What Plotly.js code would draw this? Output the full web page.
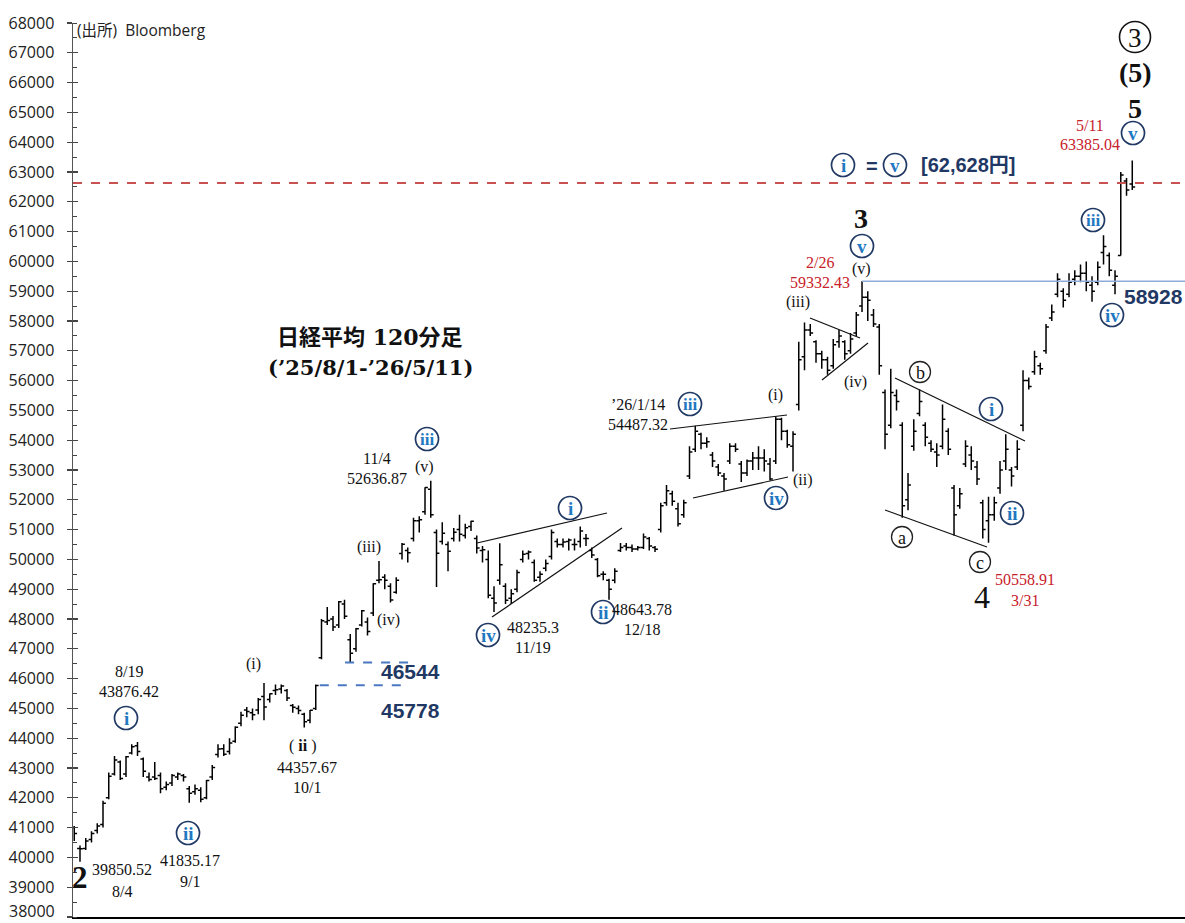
<!DOCTYPE html>
<html><head><meta charset="utf-8">
<script src="https://cdn.plot.ly/plotly-3.0.1.min.js"></script>
<style>html,body{margin:0;padding:0;background:#fff;}#chart{width:1185px;height:923px;}</style>
</head><body><div id="chart"></div>
<script>
// Nikkei 225, one bar per trading session day, '25/8/1 - '26/5/11
const openPx = [41000,40300,40300,40600,40900,41100,42000,42800,43200,42800,43500,43750,43300,42700,42700,42750,42350,42500,42700,42750,
42300,42200,42250,42000,42700,43450,43650,43550,43900,44500,44950,44850,44950,45400,45300,45600,45650,45600,45100,45000,
44800,44600,45000,46700,47900,48000,47800,48500,47300,47000,47800,47900,48200,49300,49400,49100,48900,50200,50300,50700,
51300,51600,52350,50900,50600,50500,50700,51000,50800,51100,50700,50300,50000,48700,49300,49100,48700,49000,50000,50200,
49900,49400,49700,50100,50600,50500,50600,50500,50600,50700,50300,50000,49500,49300,49300,50300,50450,50400,50350,50400,
50700,50400,51000,51900,52200,51700,51500,52800,53700,54200,53900,53500,53100,52800,53300,53800,53200,52900,53300,53400,
53400,53200,53300,54700,54300,53800,55200,56800,57700,57300,56900,56700,56500,57300,57300,57000,57600,58500,58800,58200,
57800,55600,54500,55500,54500,52000,53800,54900,54500,53900,53600,53800,54300,52400,51800,53200,53500,53100,51900,51300,
51500,52400,53300,53000,53100,54500,56000,56300,56500,57000,58100,58900,59000,58900,59400,59500,59600,59200,59300,60300,
60200,59200,60200,62700,62600];
const highPx = [41050,40400,40650,40880,41150,41900,42850,43400,43250,43400,43800,43876,43350,42850,43200,42850,42550,42800,42850,42800,
42400,42450,42350,42600,43100,43800,43800,44000,44400,44890,45050,45000,45350,45850,45500,45800,45800,45650,45150,45100,
44850,44950,45800,48000,48400,48100,48600,48650,47500,47700,48300,48050,49200,49950,49500,49200,49400,50550,50400,51400,
51450,52420,52637,51000,51250,50600,51050,51500,51200,51300,50800,50450,50300,49100,50540,49200,49000,49650,50300,50300,
50000,49600,50000,51000,50700,50700,50700,50700,51100,50850,50400,50050,49600,49350,49700,50550,50550,50500,50450,50870,
50750,50450,51900,52500,52300,51900,52000,53800,54487,54250,54100,53600,53200,52900,53900,53900,53300,53350,53600,53800,
53700,53400,54800,54750,54350,54300,57300,57950,57900,57350,57000,56800,57400,57700,57350,57600,58300,59332,59000,58400,
57900,55700,56400,55700,54600,52900,54700,55700,54600,54000,53900,55200,54400,52500,52400,54000,53800,53300,52000,52100,
52100,53300,54200,53100,54000,56350,56100,57000,56600,57900,58550,59600,59100,59600,59700,59900,60000,59500,60000,60880,
60300,59700,63000,62800,63385];
const lowPx = [40550,39851,40250,40500,40800,41000,41950,42750,42600,42700,43450,43400,42700,42550,42600,42150,42250,42400,42600,42550,
41835,42100,41850,41950,42600,43350,43400,43450,43850,44400,44700,44600,44800,44600,45200,45450,45500,45250,44850,44800,
44357,44500,44950,46650,47800,47600,47700,48000,46544,46900,47750,47450,48100,49200,49000,48550,48850,50000,49900,50600,
50900,51500,51400,49074,50500,49600,50600,50600,50700,50950,50200,49900,48700,48235,49150,48500,48500,48900,49900,50000,
49250,49250,49600,50000,50400,50400,50300,50300,50400,50450,50050,49400,49300,48643,49200,50250,50300,50250,50300,50350,
50300,50250,50900,51800,51800,51100,51400,52700,53600,53700,53750,53100,52800,52300,53200,53600,52600,52800,53000,53000,
52950,52650,53200,54000,53750,52950,55000,56350,57500,56600,56400,56200,56400,57100,56700,56900,57500,58300,58000,57800,
56200,53700,54400,55000,51400,51650,53650,54800,53800,53600,53100,53700,53500,50800,51700,53100,53000,52500,50700,50559,
51300,52200,53000,52450,53000,54300,55700,56200,56200,56900,58000,58800,58450,58800,59200,59300,59000,58650,59200,59900,
59500,58900,60200,62200,62400];
const closePx = [40800,40290,40550,40800,41050,41820,42720,43270,42650,43380,43710,43550,42890,42610,42650,42300,42450,42750,42800,42700,
42150,42300,41950,42580,43020,43640,43460,43840,44370,44770,44900,44790,45300,45050,45490,45630,45750,45350,45040,44930,
44550,44940,45770,47940,47950,47730,48580,48090,46850,47670,48280,47580,49180,49320,49300,48640,49300,50510,50220,51300,
51330,52410,51500,50210,50880,50270,50910,50840,51060,51280,50380,50320,48800,48540,49820,48630,48850,49560,50170,50250,
49300,49500,49860,50900,50500,50580,50650,50500,50950,50700,50150,49450,49500,49000,49600,50400,50400,50350,50400,50750,
50450,50340,51800,52300,51950,51200,51900,53600,54300,53900,53950,53300,52900,52700,53800,53700,52900,53300,53400,53400,
53300,52700,54700,54300,53850,54200,56700,57700,57600,56900,56700,56350,57200,57500,56900,57400,58200,58800,58700,57900,
56500,54200,55600,55300,51800,52500,54300,55300,54100,53700,53500,54700,53700,51500,52200,53800,53300,52700,51000,51500,
51900,53000,53700,52800,53700,56000,55800,56800,56400,57800,58300,59400,58700,59300,59500,59600,59300,59000,59800,60500,
59700,59500,62900,62400,62500];
const barIndex = closePx.map((_, i) => i);

// price levels marked on the chart
const levelTarget = 62628;   // (i) = (v)
const levelPeak = 59332.43;  // 2/26 high
const levelA = 46544;
const levelB = 45778;

const W = 1185, H = 923, L = 73, R = 0, T = 23, B = 6;
const PW = W - L - R, PH = H - T - B;
const X0 = -0.217, X1 = 193.17;
const fx = px => (px - L) / PW;
const fy = py => (H - B - py) / PH;

const serif = 'Liberation Serif, Times New Roman, serif';
const serifWide = 'DejaVu Serif, Noto Sans CJK JP, serif';
const sans = 'Open Sans, Liberation Sans, sans-serif';
const sansBold = 'Liberation Sans, Noto Sans CJK JP, sans-serif';
const navy = '#1f3864', blueTxt = '#1f78c1', red = '#c8202a', ink = '#111111';

const annotations = [];
const shapes = [];
function txt(px, py, text, size, color, family, opts) {
  annotations.push(Object.assign({xref:'paper', yref:'paper', x:fx(px), y:fy(py), text:text,
    showarrow:false, xanchor:'center', yanchor:'middle',
    font:{family:family, size:size, color:color}}, opts || {}));
}
function circ(px, py, r, ring, label, tcolor, tsize, bold, lw) {
  shapes.push({type:'circle', xref:'paper', yref:'paper', xsizemode:'pixel', ysizemode:'pixel',
    xanchor:fx(px), yanchor:fy(py), x0:-r, x1:r, y0:-r, y1:r,
    line:{color:ring, width:lw || 1.6}, fillcolor:'rgba(0,0,0,0)'});
  txt(px, py + 0.5, bold ? '<b>' + label + '</b>' : label, tsize, tcolor, serif);
}
function seg(p1, p2, color, width, dash) {
  shapes.push({type:'line', xref:'paper', yref:'paper', x0:fx(p1[0]), y0:fy(p1[1]), x1:fx(p2[0]), y1:fy(p2[1]),
    line:{color:color, width:width, dash:dash || 'solid'}});
}

// level lines
shapes.push({type:'line', xref:'paper', yref:'y', x0:0, x1:1, y0:levelTarget, y1:levelTarget, line:{color:'#c9514f', width:2, dash:'dash'}});
shapes.push({type:'line', xref:'x', yref:'y', x0:137, x1:X1, y0:levelPeak, y1:levelPeak, line:{color:'#8eaadb', width:1.5}});
shapes.push({type:'line', xref:'x', yref:'y', x0:47.1, x1:58.7, y0:levelA, y1:levelA, line:{color:'#4a78c2', width:2, dash:'dash'}});
shapes.push({type:'line', xref:'x', yref:'y', x0:42.7, x1:57.0, y0:levelB, y1:levelB, line:{color:'#4a78c2', width:2, dash:'dash'}});

// trend lines (pixel endpoints)
const trendLines = [
  [[477,543],[607,513]], [[492,617],[622,528]],
  [[670,429],[787,415]], [[693,498],[788,477]],
  [[810,318],[860,338]], [[822,380],[868,343]],
  [[895,378],[1025,441]], [[885,510],[987,547]]
];
trendLines.forEach(t => seg(t[0], t[1], '#111', 1.2));

// wave circles
const blueCircles = [[126,718,'i'],[188,833,'ii'],[427,439,'iii'],[488,635,'iv'],[570,508,'i'],[603,612,'ii'],
  [690,404,'iii'],[776,498,'iv'],[862,246,'v'],[991,409,'i'],[1012,513,'ii'],[1093,220,'iii'],[1112,315,'iv'],
  [1133,133,'v'],[843,165,'i'],[895,165,'v']];
blueCircles.forEach(c => circ(c[0], c[1], 11.5, navy, c[2], blueTxt, c[2].length > 2 ? 17 : 19, true, 1.7));
const blackCircles = [[902,537,'a'],[920,372,'b'],[980,562,'c']];
blackCircles.forEach(c => circ(c[0], c[1], 10.5, '#222', c[2], ink, 18, false, 1.3));
circ(1135, 37, 15.5, '#111', '3', ink, 27, false, 1.6);

// serif labels
const serifLabels = [
  [129,671,'8/19'],[129,691,'43876.42'],[253,664,'(i)'],
  [303,746,'( <b>ii</b> )'],[307,767,'44357.67'],[307,787,'10/1'],
  [190,860,'41835.17'],[190,881,'9/1'],[122,869,'39850.52'],[122,891,'8/4'],
  [377,458,'11/4'],[377,479,'52636.87'],[424,467,'(v)'],[369,547,'(iii)'],[388,620,'(iv)'],
  [533,627,'48235.3'],[533,647,'11/19'],[642,609,'48643.78'],[642,629,'12/18'],
  [638,404,'\u201926/1/14'],[638,424,'54487.32'],[775,395,'(i)'],[803,480,'(ii)'],
  [861,269,'(v)'],[798,302,'(iii)'],[855,382,'(iv)']
];
serifLabels.forEach(l => txt(l[0], l[1], l[2], 16, ink, serif));
const redLabels = [[820,262,'2/26'],[820,283,'59332.43'],[1025,579,'50558.91'],[1025,600,'3/31'],[1090,126,'5/11'],[1090,145,'63385.04']];
redLabels.forEach(l => txt(l[0], l[1], l[2], 16, red, serif));

// wave degree numbers
txt(80, 877, '<b>2</b>', 31, ink, serif);
txt(861, 219, '<b>3</b>', 28, ink, serif);
txt(982, 597, '4', 32, ink, serif);
txt(1135, 72, '<b>(5)</b>', 28, ink, serif);
txt(1135, 108, '<b>5</b>', 28, ink, serif);

// navy level labels
txt(410, 671, '<b>46544</b>', 21, navy, sansBold);
txt(410, 710, '<b>45778</b>', 21, navy, sansBold);
txt(1153, 297, '<b>58928</b>', 21, navy, sansBold);
txt(872, 166, '<b>=</b>', 20, navy, sansBold);
txt(968, 165, '<b>[62,628円]</b>', 20, navy, sansBold);

// title & source
txt(370, 337, '<b>日経平均 120分足</b>', 22, ink, serifWide);
txt(370, 367, '<b>(\u201925/8/1-\u201926/5/11)</b>', 21, ink, serifWide);
txt(75, 30, '(出所)  Bloomberg', 15.5, '#222', 'Open Sans, Noto Sans CJK JP, sans-serif', {xanchor:'left'});
// bottom tick label (the axis' own label falls outside the page)
txt(57, 911, '38000', 16, '#222', sans, {xanchor:'right'});

const traces = [
  {type:'ohlc', x:barIndex, open:openPx, high:highPx, low:lowPx, close:closePx,
   increasing:{line:{color:'#000', width:1.5}}, decreasing:{line:{color:'#000', width:1.5}},
   tickwidth:0.5, hoverinfo:'skip', showlegend:false},
  {type:'scatter', x:[0], y:[38000], yaxis:'y2', mode:'markers', marker:{opacity:0}, hoverinfo:'skip', showlegend:false}
];

const layout = {
  width:W, height:H, margin:{l:L, r:R, t:T, b:B}, paper_bgcolor:'#fff', plot_bgcolor:'#fff', showlegend:false,
  xaxis:{range:[X0, X1], showticklabels:false, ticks:'', showgrid:false, zeroline:false, showline:true,
    linecolor:'#000', linewidth:1.5, rangeslider:{visible:false}, fixedrange:true},
  yaxis:{range:[38000, 68000], tick0:38000, dtick:1000, tickformat:'d', ticks:'outside', ticklen:5, tickwidth:1.2,
    tickcolor:'#444', showline:true, linecolor:'#555', linewidth:1.5, showgrid:false, zeroline:false,
    tickfont:{family:sans, size:16, color:'#222'}, ticklabelstandoff:9,
    minor:{dtick:500, ticks:'inside', ticklen:4, tickwidth:1, tickcolor:'#444', showgrid:false}},
  yaxis2:{overlaying:'y', side:'left', range:[38000, 68000], tick0:38000, dtick:1000, ticks:'inside', ticklen:5,
    tickwidth:1.2, tickcolor:'#444', showticklabels:false, showgrid:false, zeroline:false, showline:false},
  shapes:shapes, annotations:annotations
};
Plotly.newPlot('chart', traces, layout, {staticPlot:true, displayModeBar:false});
</script></body></html>
